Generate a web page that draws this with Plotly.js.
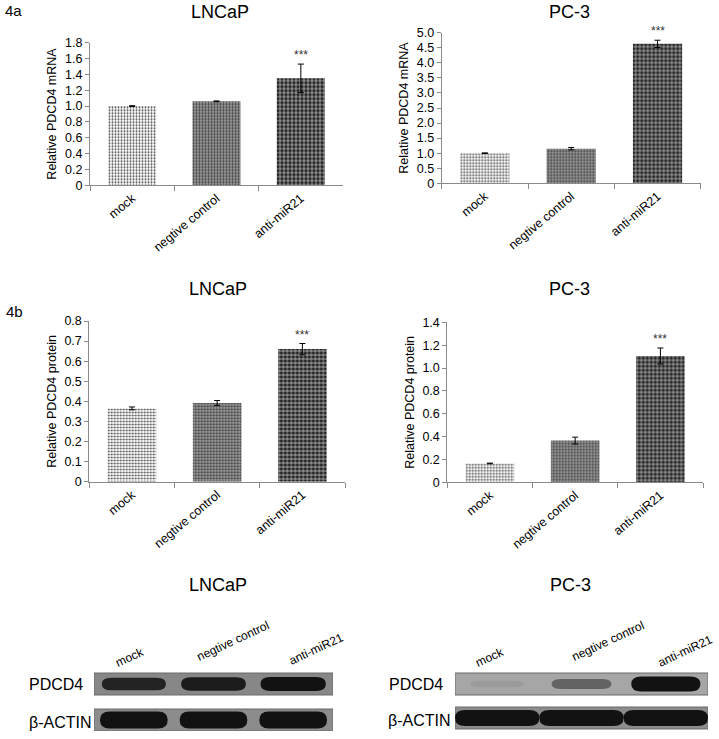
<!DOCTYPE html>
<html>
<head>
<meta charset="utf-8">
<script src="https://cdn.plot.ly/plotly-3.0.1.min.js"></script>
<style>
html, body { margin: 0; padding: 0; background: #fff; }
#chart { width: 719px; height: 739px; }
</style>
</head>
<body>
<div id="chart"></div>
<script>
// groups shared by every panel
var groups = ['mock', 'negtive control', 'anti-miR21'];

// 4a - relative PDCD4 mRNA
var lncapMrna = [1.0, 1.06, 1.35];
var lncapMrnaErr = [0.005, 0.005, 0.18];
var pc3Mrna = [1.0, 1.15, 4.63];
var pc3MrnaErr = [0.01, 0.04, 0.12];

// 4b - relative PDCD4 protein
var lncapProt = [0.365, 0.392, 0.66];
var lncapProtErr = [0.007, 0.012, 0.028];
var pc3Prot = [0.165, 0.365, 1.105];
var pc3ProtErr = [0.003, 0.03, 0.07];

// tick labels
var lncapMrnaTicks = [0, 0.2, 0.4, 0.6, 0.8, 1.0, 1.2, 1.4, 1.6, 1.8];
var lncapMrnaLabels = ['0', '0.2', '0.4', '0.6', '0.8', '1.0', '1.2', '1.4', '1.6', '1.8'];
var pc3MrnaTicks = [0, 0.5, 1.0, 1.5, 2.0, 2.5, 3.0, 3.5, 4.0, 4.5, 5.0];
var pc3MrnaLabels = ['0', '0.5', '1.0', '1.5', '2.0', '2.5', '3.0', '3.5', '4.0', '4.5', '5.0'];
var lncapProtTicks = [0, 0.1, 0.2, 0.3, 0.4, 0.5, 0.6, 0.7, 0.8];
var lncapProtLabels = ['0', '0.1', '0.2', '0.3', '0.4', '0.5', '0.6', '0.7', '0.8'];
var pc3ProtTicks = [0, 0.2, 0.4, 0.6, 0.8, 1.0, 1.2, 1.4];
var pc3ProtLabels = ['0', '0.2', '0.4', '0.6', '0.8', '1.0', '1.2', '1.4'];

// western blot band strength per lane (0..1)
var lncapPdcd4Band = [0.85, 0.93, 1.0];
var lncapActinBand = [1.0, 1.0, 1.0];
var pc3Pdcd4Band = [0.07, 0.45, 1.0];
var pc3ActinBand = [1.0, 1.0, 1.0];

var FONT = 'Arial, "Liberation Sans", sans-serif';
var W = 719, H = 739;

function px(x) { return x / W; }
function py(y) { return 1 - y / H; }

function barTrace(vals, errs, n) {
    var s = n === 1 ? '' : String(n);
    return {
        type: 'bar',
        x: groups,
        y: vals,
        xaxis: 'x' + s,
        yaxis: 'y' + s,
        marker: {
            color: ['#ffffff', '#a0a0a0', '#222222'],
            pattern: {
                fillmode: 'overlay',
                shape: ['.', '.', '+'],
                fgcolor: ['#a8a8a8', '#686868', '#5a5a5a'],
                fgopacity: 1,
                size: [3, 3, 4],
                solidity: [0.35, 0.45, 0.25]
            },
            line: {width: 0}
        },
        error_y: {type: 'data', array: errs, visible: true, color: '#000', thickness: 1, width: 3},
        hoverinfo: 'skip'
    };
}

var data = [
    barTrace(lncapMrna, lncapMrnaErr, 1),
    barTrace(pc3Mrna, pc3MrnaErr, 2),
    barTrace(lncapProt, lncapProtErr, 3),
    barTrace(pc3Prot, pc3ProtErr, 4)
];

function xAxis(d0, d1, anchor) {
    return {
        domain: [px(d0), px(d1)],
        anchor: anchor,
        type: 'category',
        range: [-0.5, 2.5],
        showline: true, linecolor: '#8a8a8a', linewidth: 1,
        ticks: 'outside', tickson: 'boundaries', ticklen: 5, tickcolor: '#8a8a8a',
        tickangle: -40,
        tickfont: {family: FONT, size: 12.5, color: '#000'},
        showgrid: false, zeroline: false, fixedrange: true
    };
}

function yAxis(top, bottom, max, tv, tt, title, anchor) {
    return {
        domain: [py(bottom), py(top)],
        anchor: anchor,
        range: [0, max],
        tickvals: tv, ticktext: tt,
        showline: true, linecolor: '#8a8a8a', linewidth: 1,
        ticks: 'outside', ticklen: 4, tickcolor: '#8a8a8a',
        tickfont: {family: FONT, size: 12.5, color: '#000'},
        title: {text: title, font: {family: FONT, size: 12.5, color: '#000'}, standoff: 5},
        showgrid: false, zeroline: false, fixedrange: true
    };
}

function hidden(d0, d1, range, anchor) {
    return {domain: [d0, d1], range: range, anchor: anchor, visible: false, fixedrange: true};
}

var layout = {
    width: W, height: H,
    margin: {l: 0, r: 0, t: 0, b: 0},
    paper_bgcolor: '#fff', plot_bgcolor: 'rgba(0,0,0,0)',
    showlegend: false,
    hovermode: false,
    bargap: 0.43,
    font: {family: FONT, color: '#000'},

    xaxis: xAxis(90, 343, 'y'),
    yaxis: yAxis(42.7, 185.3, 1.8, lncapMrnaTicks, lncapMrnaLabels, 'Relative PDCD4 mRNA', 'x'),
    xaxis2: xAxis(441.7, 700.7, 'y2'),
    yaxis2: yAxis(32.7, 183.3, 5.0, pc3MrnaTicks, pc3MrnaLabels, 'Relative PDCD4 mRNA', 'x2'),
    xaxis3: xAxis(89.3, 345, 'y3'),
    yaxis3: yAxis(321, 481.7, 0.8, lncapProtTicks, lncapProtLabels, 'Relative PDCD4 protein', 'x3'),
    xaxis4: xAxis(447.3, 703, 'y4'),
    yaxis4: yAxis(322.3, 482.3, 1.4, pc3ProtTicks, pc3ProtLabels, 'Relative PDCD4 protein', 'x4'),

    // blot panels: x in lanes, y in pixels below the top of the blot
    xaxis5: hidden(px(94), px(333), [-0.5, 2.5], 'y5'),
    yaxis5: hidden(py(731), py(671), [60, 0], 'x5'),
    xaxis6: hidden(px(455), px(708), [-0.5, 2.5], 'y6'),
    yaxis6: hidden(py(731), py(671), [60, 0], 'x6'),

    shapes: [],
    annotations: []
};

// *** over the anti-miR21 bars
[[lncapMrna, lncapMrnaErr, ''], [pc3Mrna, pc3MrnaErr, '2'],
 [lncapProt, lncapProtErr, '3'], [pc3Prot, pc3ProtErr, '4']].forEach(function (s) {
    layout.annotations.push({
        xref: 'x' + s[2], yref: 'y' + s[2],
        x: groups[2], y: s[0][2] + s[1][2],
        text: '***', showarrow: false, yanchor: 'bottom', yshift: 0,
        font: {family: FONT, size: 12, color: '#333'}
    });
});

function label(text, x, y, size, anchor, angle) {
    layout.annotations.push({
        xref: 'paper', yref: 'paper', x: px(x), y: py(y),
        text: text, showarrow: false,
        xanchor: anchor || 'center', yanchor: 'middle',
        textangle: angle || 0,
        font: {family: FONT, size: size, color: '#000'}
    });
}

label('4a', 3, 10, 15, 'left');
label('4b', 4, 311, 15, 'left');
label('LNCaP', 220, 12, 18);
label('PC-3', 569, 12, 18);
label('LNCaP', 218, 289, 18);
label('PC-3', 569, 289, 18);
label('LNCaP', 218, 585, 18);
label('PC-3', 570, 585, 18);

label('PDCD4', 27, 684, 16, 'left');
label('β-ACTIN', 27, 722, 16, 'left');
label('PDCD4', 387, 684, 16, 'left');
label('β-ACTIN', 386, 720, 16, 'left');

// lane labels over the blots
var lncapLaneLabelPos = [[130, 657], [233, 641], [316, 649]];
var pc3LaneLabelPos = [[490, 657], [608, 641], [685, 651]];
groups.forEach(function (g, i) {
    label(g, lncapLaneLabelPos[i][0], lncapLaneLabelPos[i][1], 12, 'center', -25);
    label(g, pc3LaneLabelPos[i][0], pc3LaneLabelPos[i][1], 12, 'center', -25);
});

// blot strips
function strip(n, y0, y1, color) {
    layout.shapes.push({
        type: 'rect', xref: 'x' + n, yref: 'y' + n,
        x0: -0.5, x1: 2.5, y0: y0, y1: y1,
        fillcolor: color, line: {color: '#6a6a6a', width: 1}, layer: 'below'
    });
}

function band(n, lane, strength, yc, half, widthFrac) {
    var hw = widthFrac / 2;
    var x0 = lane - hw, x1 = lane + hw;
    var r = 0.12;
    var y0 = yc - half, y1 = yc + half;
    var path = 'M' + (x0 + r) + ',' + y0 +
        ' L' + (x1 - r) + ',' + y0 +
        ' Q' + x1 + ',' + y0 + ' ' + x1 + ',' + yc +
        ' Q' + x1 + ',' + y1 + ' ' + (x1 - r) + ',' + y1 +
        ' L' + (x0 + r) + ',' + y1 +
        ' Q' + x0 + ',' + y1 + ' ' + x0 + ',' + yc +
        ' Q' + x0 + ',' + y0 + ' ' + (x0 + r) + ',' + y0 + ' Z';
    layout.shapes.push({
        type: 'path', xref: 'x' + n, yref: 'y' + n, path: path,
        fillcolor: 'rgba(18,18,18,' + strength.toFixed(2) + ')',
        line: {width: 0}, layer: 'above'
    });
}

strip(5, 2, 24, '#878787');
strip(5, 38, 60, '#8c8c8c');
strip(6, 2, 24, '#a6a6a6');
strip(6, 36, 58, '#8c8c8c');

groups.forEach(function (g, i) {
    band(5, i, lncapPdcd4Band[i], 13, 2.5 + 4.5 * lncapPdcd4Band[i], 0.72 + 0.1 * lncapPdcd4Band[i]);
    band(5, i, lncapActinBand[i], 49, 8.5 * lncapActinBand[i], 0.85);
    band(6, i, pc3Pdcd4Band[i], 13, 3 + 4.5 * pc3Pdcd4Band[i], 0.62 + 0.2 * pc3Pdcd4Band[i]);
    band(6, i, pc3ActinBand[i], 47, 8 * pc3ActinBand[i], 1.0);
});

Plotly.newPlot('chart', data, layout, {displayModeBar: false, staticPlot: true});
</script>
</body>
</html>
